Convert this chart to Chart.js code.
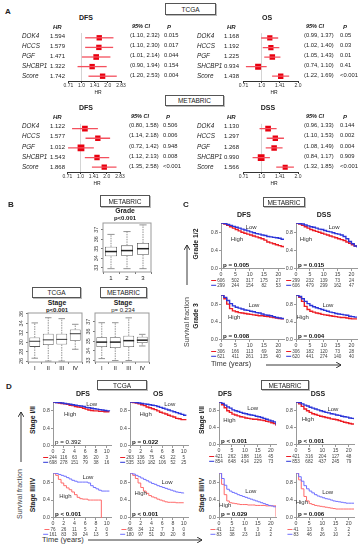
<!DOCTYPE html>
<html>
<head>
<meta charset="utf-8">
<script src="https://cdn.jsdelivr.net/npm/chart.js@4.4.1/dist/chart.umd.min.js"></script>
<style>
body{margin:0;background:#fff;width:362px;height:550px;position:relative;overflow:hidden;font-family:"Liberation Sans",Arial,sans-serif;color:#222}
.t{position:absolute;white-space:nowrap;line-height:1}
.box{position:absolute;border:1px solid #555;box-shadow:1px 1px 0 #bbb;display:flex;align-items:center;justify-content:center;box-sizing:border-box;font-size:6.5px;background:#fff}
canvas{position:absolute}
svg{position:absolute;left:0;top:0}
</style>
</head>
<body>
<script>
// ---------- A: hazard ratios ----------
var genes = ['DOK4', 'HCCS', 'PGF', 'SHCBP1', 'Score'];

var tcgaDfsHR = [1.594, 1.579, 1.471, 1.322, 1.742];
var tcgaDfsLo = [1.10, 1.10, 1.01, 0.90, 1.20];
var tcgaDfsHi = [2.32, 2.30, 2.14, 1.94, 2.53];
var tcgaDfsP = ['0.015', '0.017', '0.044', '0.154', '0.004'];

var tcgaOsHR = [1.168, 1.192, 1.225, 0.934, 1.438];
var tcgaOsLo = [0.99, 1.02, 1.05, 0.74, 1.22];
var tcgaOsHi = [1.37, 1.40, 1.43, 1.10, 1.69];
var tcgaOsP = ['0.05', '0.03', '0.01', '0.41', '<0.001'];

var metaDfsHR = [1.122, 1.577, 1.012, 1.543, 1.868];
var metaDfsLo = [0.80, 1.14, 0.72, 1.12, 1.35];
var metaDfsHi = [1.58, 2.18, 1.42, 2.13, 2.58];
var metaDfsP = ['0.506', '0.006', '0.948', '0.008', '<0.001'];

var metaDssHR = [1.130, 1.297, 1.268, 0.990, 1.566];
var metaDssLo = [0.96, 1.10, 1.08, 0.84, 1.32];
var metaDssHi = [1.33, 1.53, 1.49, 1.17, 1.85];
var metaDssP = ['0.144', '0.002', '0.004', '0.909', '<0.001'];

var hrTicks = [0.7071, 1, 1.4142, 2, 2.8284];
var hrTickLabels = ['0.71', '1.0', '1.41', '2.0', '2.83'];

// ---------- B: box plots ----------
var gradeCats = ['1', '2', '3'];
var gradeLow = [32.9, 32.9, 32.9];
var gradeQ1 = [34.2, 34.25, 34.35];
var gradeMed = [34.7, 34.8, 35.0];
var gradeQ3 = [35.2, 35.35, 35.6];
var gradeHigh = [36.5, 36.8, 37.5];
var gradeTicks = [33, 34, 35, 36, 37];

var stageCats = ['I', 'II', 'III', 'IV'];
var tcgaStageLow = [26.6, 26.0, 26.0, 28.5];
var tcgaStageQ1 = [29.0, 29.4, 29.5, 30.3];
var tcgaStageMed = [30.2, 30.5, 30.6, 31.8];
var tcgaStageQ3 = [31.0, 31.8, 31.8, 32.7];
var tcgaStageHigh = [34.1, 35.2, 35.0, 33.8];
var tcgaStageTicks = [26, 28, 30, 32, 34, 36];

var metaStageLow = [33.2, 33.0, 33.0, 34.5];
var metaStageQ1 = [34.4, 34.3, 34.4, 34.8];
var metaStageMed = [34.9, 34.9, 35.05, 35.1];
var metaStageQ3 = [35.4, 35.4, 35.55, 35.45];
var metaStageHigh = [36.9, 36.9, 37.4, 35.7];
var metaStageTicks = [33, 34, 35, 36, 37];

// ---------- C / D: survival curves ----------
var yearsMeta = [0, 1, 2, 3, 4, 5, 6, 7, 8, 9, 10, 11, 12, 13, 14, 15, 16, 17, 18, 19, 20, 21, 22];
var yearsTcga = [0, 0.5, 1, 1.5, 2, 2.5, 3, 3.5, 4, 4.5, 5, 5.5, 6, 6.5, 7, 7.5, 8, 8.5, 9, 9.5, 10, 10.5];
var kmTicksMeta = [0, 5, 10, 15, 20];
var kmTicksTcga = [0, 2, 4, 6, 8, 10];
var kmTicksY = [0, 0.2, 0.4, 0.6, 0.8, 1.0];

var g12DfsHigh = [1.00, 0.98, 0.95, 0.92, 0.89, 0.86, 0.83, 0.80, 0.78, 0.76, 0.74, 0.72, 0.70, 0.68, 0.66, 0.63, 0.59, 0.57, 0.55, 0.53, 0.51, 0.49, 0.47];
var g12DfsLow = [1.00, 0.99, 0.97, 0.95, 0.93, 0.91, 0.89, 0.87, 0.85, 0.83, 0.81, 0.79, 0.77, 0.76, 0.74, 0.73, 0.71, 0.70, 0.69, 0.68, 0.67, 0.65, 0.63];
var g12DssHigh = [1.00, 0.98, 0.95, 0.92, 0.89, 0.86, 0.84, 0.82, 0.80, 0.78, 0.76, 0.74, 0.72, 0.70, 0.68, 0.66, 0.64, 0.62, 0.59, 0.56, 0.53, 0.50, 0.48];
var g12DssLow = [1.00, 0.99, 0.98, 0.96, 0.94, 0.92, 0.91, 0.89, 0.87, 0.86, 0.84, 0.82, 0.81, 0.79, 0.77, 0.76, 0.74, 0.71, 0.66, 0.60, 0.55, 0.50, 0.47];
var g3DfsHigh = [1.00, 0.92, 0.80, 0.70, 0.65, 0.63, 0.61, 0.60, 0.59, 0.58, 0.57, 0.56, 0.55, 0.54, 0.54, 0.53, 0.52, 0.51, 0.50, 0.49, 0.48, 0.47, 0.46];
var g3DfsLow = [1.00, 0.95, 0.88, 0.81, 0.76, 0.73, 0.71, 0.69, 0.67, 0.66, 0.64, 0.63, 0.61, 0.60, 0.58, 0.56, 0.55, 0.54, 0.52, 0.50, 0.49, 0.48, 0.47];
var g3DssHigh = [1.00, 0.95, 0.86, 0.75, 0.68, 0.64, 0.62, 0.60, 0.59, 0.57, 0.56, 0.55, 0.54, 0.53, 0.52, 0.51, 0.50, 0.50, 0.49, 0.48, 0.47, 0.47, 0.46];
var g3DssLow = [1.00, 0.97, 0.92, 0.86, 0.81, 0.77, 0.74, 0.72, 0.70, 0.68, 0.66, 0.64, 0.62, 0.61, 0.59, 0.58, 0.57, 0.56, 0.55, 0.53, 0.52, 0.51, 0.50];

var tcgaS12DfsHigh = [1.00, 0.99, 0.98, 0.97, 0.96, 0.95, 0.93, 0.92, 0.90, 0.89, 0.88, 0.86, 0.84, 0.82, 0.81, 0.80, 0.80, 0.79, 0.79, 0.78, 0.78, 0.78];
var tcgaS12DfsLow = [1.00, 0.99, 0.99, 0.98, 0.97, 0.96, 0.95, 0.94, 0.93, 0.92, 0.91, 0.90, 0.88, 0.87, 0.86, 0.85, 0.84, 0.83, 0.82, 0.81, 0.80, 0.79];
var tcgaS12OsHigh = [1.00, 0.99, 0.98, 0.96, 0.94, 0.92, 0.89, 0.87, 0.85, 0.83, 0.80, 0.77, 0.75, 0.73, 0.70, 0.68, 0.66, 0.63, 0.62, 0.60, 0.60, 0.60];
var tcgaS12OsLow = [1.00, 1.00, 0.99, 0.98, 0.97, 0.96, 0.95, 0.94, 0.93, 0.92, 0.90, 0.88, 0.86, 0.84, 0.82, 0.80, 0.78, 0.76, 0.74, 0.72, 0.70, 0.70];
var tcgaS34DfsHigh = [1.00, 0.95, 0.86, 0.78, 0.72, 0.67, 0.63, 0.58, 0.52, 0.46, 0.43, 0.42, 0.42, 0.40, 0.40, 0.40, 0.40, 0.40, 0.00];
var tcgaS34DfsLow = [1.00, 0.99, 0.97, 0.95, 0.93, 0.90, 0.87, 0.84, 0.82, 0.80, 0.80, 0.80, 0.80, 0.78, 0.72, 0.68, 0.65, 0.62, 0.60, 0.60, 0.60, 0.60];
var tcgaS34OsHigh = [1.00, 0.95, 0.88, 0.78, 0.68, 0.60, 0.55, 0.50, 0.47, 0.45, 0.42, 0.40, 0.38, 0.36, 0.35, 0.35, 0.35, 0.34, 0.34, 0.34, 0.34];
var tcgaS34OsLow = [1.00, 0.98, 0.95, 0.92, 0.89, 0.86, 0.83, 0.80, 0.77, 0.75, 0.72, 0.70, 0.68, 0.66, 0.64, 0.62, 0.60, 0.58, 0.57, 0.56, 0.55];

var metaS12DfsHigh = [1.00, 0.94, 0.87, 0.80, 0.76, 0.72, 0.70, 0.68, 0.66, 0.65, 0.63, 0.62, 0.61, 0.60, 0.60, 0.59, 0.58, 0.57, 0.55, 0.54, 0.52, 0.50, 0.45];
var metaS12DfsLow = [1.00, 0.97, 0.93, 0.89, 0.86, 0.82, 0.80, 0.78, 0.76, 0.74, 0.73, 0.71, 0.70, 0.69, 0.67, 0.66, 0.64, 0.62, 0.60, 0.58, 0.56, 0.54, 0.47];
var metaS12DssHigh = [1.00, 0.96, 0.90, 0.84, 0.80, 0.76, 0.73, 0.71, 0.69, 0.67, 0.66, 0.64, 0.63, 0.61, 0.60, 0.59, 0.57, 0.55, 0.53, 0.52, 0.50, 0.49, 0.47];
var metaS12DssLow = [1.00, 0.99, 0.96, 0.93, 0.91, 0.88, 0.86, 0.84, 0.82, 0.80, 0.78, 0.76, 0.75, 0.73, 0.72, 0.70, 0.69, 0.67, 0.66, 0.65, 0.63, 0.62, 0.60];
var metaS34DfsHigh = [1.00, 0.75, 0.52, 0.38, 0.34, 0.33, 0.32, 0.31, 0.30, 0.30, 0.30, 0.29, 0.29, 0.29, 0.28, 0.28, 0.28, 0.28, 0.27, 0.27, 0.27, 0.27, 0.03];
var metaS34DfsLow = [1.00, 0.88, 0.73, 0.64, 0.60, 0.57, 0.55, 0.52, 0.50, 0.48, 0.46, 0.44, 0.42, 0.40, 0.38, 0.36, 0.34, 0.32, 0.30, 0.28, 0.27, 0.25, 0.25];
var metaS34DssHigh = [1.00, 0.85, 0.65, 0.48, 0.38, 0.32, 0.30, 0.28, 0.27, 0.26, 0.25, 0.24, 0.23, 0.22, 0.21, 0.20, 0.20, 0.20, 0.20, 0.20, 0.20, 0.20, 0.20];
var metaS34DssLow = [1.00, 0.92, 0.82, 0.72, 0.65, 0.60, 0.56, 0.52, 0.49, 0.47, 0.45, 0.43, 0.42, 0.40, 0.38, 0.37, 0.36, 0.35, 0.34, 0.33, 0.33, 0.33, 0.33];

// numbers at risk (red row, blue row)
var riskG12Dfs = [[606, 502, 317, 175, 27], [299, 244, 154, 82, 53]];
var riskG12Dss = [[299, 232, 139, 73, 24], [606, 479, 299, 162, 47]];
var riskG3Dfs = [[306, 166, 113, 69, 28], [621, 411, 261, 135, 40]];
var riskG3Dss = [[306, 182, 120, 73, 28], [620, 441, 274, 140, 40]];
var riskTcgaS12Dfs = [[244, 116, 63, 36, 20, 3], [698, 278, 151, 79, 38, 16]];
var riskTcgaS12Os = [[263, 136, 75, 43, 22, 5], [535, 319, 182, 106, 52, 25]];
var riskTcgaS34Dfs = [[76, 26, 11, 5, 2, 0], [161, 83, 39, 24, 13, 5]];
var riskTcgaS34Os = [[68, 34, 12, 7, 3, 0], [180, 97, 51, 30, 20, 8]];
var riskMetaS12Dfs = [[421, 262, 188, 116, 45], [854, 648, 414, 229, 73]];
var riskMetaS12Dss = [[421, 316, 204, 127, 48], [853, 682, 437, 245, 79]];
var riskMetaS34Dfs = [[41, 12, 6, 3, 2], [83, 38, 23, 10, 2]];
var riskMetaS34Dss = [[41, 13, 8, 3, 2], [83, 46, 26, 10, 2]];

// ---------------------------------------------------------------
Chart.defaults.font.family = '"Liberation Sans", Arial, sans-serif';
Chart.defaults.color = '#333';
Chart.defaults.animation = false;
Chart.defaults.plugins.legend.display = false;
Chart.defaults.plugins.tooltip.enabled = false;

var RED = '#ec1c24', BLUE = '#2b35d8', RED_L = '#ff6a6a', BLUE_L = '#6f70ff';

function canvasAt(l, t, w, h) {
    var c = document.createElement('canvas');
    c.width = w; c.height = h;
    c.style.left = l + 'px'; c.style.top = t + 'px';
    c.style.width = w + 'px'; c.style.height = h + 'px';
    document.body.appendChild(c);
    return c.getContext('2d');
}

// text helper (x,y = anchor, vertically centred)
function put(s, x, y, size, o) {
    o = o || {};
    var d = document.createElement('div');
    d.className = 't';
    d.textContent = s;
    d.style.left = x + 'px';
    d.style.top = y + 'px';
    d.style.fontSize = size + 'px';
    if (o.b) d.style.fontWeight = 'bold';
    if (o.i) d.style.fontStyle = 'italic';
    if (o.c) d.style.color = o.c;
    var ax = o.al === 'c' ? '-50%' : (o.al === 'r' ? '-100%' : '0');
    if (o.rot) ax = '-50%';
    d.style.transform = 'translate(' + ax + ',-50%)' + (o.rot ? ' rotate(-90deg)' : '');
    document.body.appendChild(d);
}

function box(s, l, t, w, h) {
    var d = document.createElement('div');
    d.className = 'box';
    d.textContent = s;
    d.style.left = l + 'px'; d.style.top = t + 'px';
    d.style.width = w + 'px'; d.style.height = h + 'px';
    document.body.appendChild(d);
}

// ---------- forest plot ----------
function forest(a, title, hr, lo, hi, p, sizes, nTicks, cols) {
    var padL = 10, padR = 10, padT = 2, axisH = 9;
    var ctx = canvasAt(a.l - padL, a.t - padT, a.r - a.l + padL + padR, a.b - a.t + padT + axisH);
    var tv = hrTicks.slice(0, nTicks), tl = hrTickLabels.slice(0, nTicks);
    var ds = [];
    for (var i = 0; i < hr.length; i++) {
        ds.push({type: 'line', data: [{x: lo[i], y: i + 1}, {x: hi[i], y: i + 1}],
            borderColor: '#f4505e', borderWidth: 1.3, pointRadius: 0});
    }
    ds.push({type: 'scatter', data: hr.map(function(v, i) { return {x: v, y: i + 1}; }),
        pointStyle: 'rect', pointRadius: sizes, backgroundColor: '#e8000f', borderWidth: 0});
    new Chart(ctx, {
        type: 'scatter',
        data: {datasets: ds},
        options: {
            responsive: false,
            layout: {padding: {left: padL, right: padR, top: padT}},
            scales: {
                x: {
                    type: 'logarithmic', min: tv[0], max: tv[tv.length - 1],
                    afterBuildTicks: function(s) { s.ticks = tv.map(function(v) { return {value: v}; }); },
                    afterFit: function(s) { s.height = axisH; },
                    ticks: {font: {size: 5}, padding: 0, maxRotation: 0, autoSkip: false, color: '#333',
                        callback: function(v, i) { return tl[i]; }},
                    grid: {color: function(c) { return c.tick && c.tick.value === 1 ? '#d4d4d4' : 'rgba(0,0,0,0)'; },
                        tickColor: '#333', tickLength: 2, lineWidth: 1},
                    border: {color: '#333', width: 1}
                },
                y: {display: false, min: 0.5, max: hr.length + 0.5, reverse: true}
            }
        }
    });
    // text columns
    var step = (a.b - a.t) / hr.length;
    put(title, cols.tx, a.t - 14, 7, {b: 1, al: 'c'});
    put('HR', cols.hr + 3, a.t - 4, 6, {b: 1, i: 1});
    put('95% CI', cols.ci + 2, a.t - 4, 5.5, {b: 1, i: 1});
    put('P', cols.p + 3, a.t - 4, 6, {b: 1, i: 1});
    for (var k = 0; k < hr.length; k++) {
        var y = a.t + (k + 0.5) * step;
        put(genes[k], cols.name, y, 6.3, {i: 1});
        put(hr[k].toFixed(3), cols.hr, y, 6);
        put('(' + lo[k].toFixed(2) + ', ' + hi[k].toFixed(2) + ')', cols.ci, y, 5.8);
        put(p[k], cols.p, y, 5.8);
    }
    put('HR', (a.l + a.r) / 2, a.b + 11, 5);
}

// ---------- box plot ----------
var boxExtra = {
    id: 'boxExtra',
    afterDatasetsDraw: function(chart) {
        var o = chart.options.plugins.boxExtra;
        var ctx = chart.ctx, ys = chart.scales.y, a = chart.chartArea;
        var meta = chart.getDatasetMeta(0);
        var d = chart.data.datasets[0].data;
        ctx.save();
        meta.data.forEach(function(bar, i) {
            var x = bar.x, hw = bar.width / 2;
            var pLo = ys.getPixelForValue(o.lo[i]), pHi = ys.getPixelForValue(o.hi[i]);
            var pQ1 = ys.getPixelForValue(d[i][0]), pQ3 = ys.getPixelForValue(d[i][1]);
            ctx.strokeStyle = '#777';
            ctx.lineWidth = 0.8;
            ctx.setLineDash([1.5, 1]);
            ctx.beginPath();
            ctx.moveTo(x, pQ3); ctx.lineTo(x, pHi);
            ctx.moveTo(x, pQ1); ctx.lineTo(x, pLo);
            ctx.stroke();
            ctx.setLineDash([]);
            ctx.beginPath();
            ctx.moveTo(x - hw * 0.6, pHi); ctx.lineTo(x + hw * 0.6, pHi);
            ctx.moveTo(x - hw * 0.6, pLo); ctx.lineTo(x + hw * 0.6, pLo);
            ctx.stroke();
            ctx.strokeStyle = '#222';
            ctx.lineWidth = o.medW;
            ctx.beginPath();
            var pm = ys.getPixelForValue(o.med[i]);
            ctx.moveTo(x - hw, pm); ctx.lineTo(x + hw, pm);
            ctx.stroke();
        });
        ctx.strokeStyle = '#999';
        ctx.lineWidth = 1;
        ctx.strokeRect(a.left, a.top, a.right - a.left, a.bottom - a.top);
        ctx.fillStyle = '#444';
        ctx.font = '5.5px "Liberation Sans", Arial';
        ctx.textAlign = 'center';
        ctx.textBaseline = 'middle';
        o.ticks.forEach(function(v) {
            ctx.save();
            ctx.translate(a.left - 6.5, ys.getPixelForValue(v));
            ctx.rotate(-Math.PI / 2);
            ctx.fillText(String(v), 0, 0);
            ctx.restore();
        });
        ctx.restore();
    }
};

function boxplot(a, cats, lo, q1, med, q3, hi, yMin, yMax, ticks, barPct, medW) {
    var padL = 12, padB = 12, padT = 2, padR = 3;
    var ctx = canvasAt(a.l - padL, a.t - padT, a.r - a.l + padL + padR, a.b - a.t + padT + padB);
    new Chart(ctx, {
        type: 'bar',
        data: {labels: cats, datasets: [{
            data: q1.map(function(v, i) { return [v, q3[i]]; }),
            backgroundColor: '#fff', borderColor: '#555', borderWidth: 0.8, borderSkipped: false,
            barPercentage: barPct, categoryPercentage: 1
        }]},
        options: {
            responsive: false,
            layout: {padding: {top: padT, right: padR}},
            scales: {
                x: {afterFit: function(s) { s.height = padB; },
                    ticks: {font: {size: 6}, padding: 1, color: '#222', maxRotation: 0},
                    grid: {drawOnChartArea: false, tickLength: 2, color: '#777'},
                    border: {display: false}},
                y: {min: yMin, max: yMax,
                    afterBuildTicks: function(s) { s.ticks = ticks.map(function(v) { return {value: v}; }); },
                    afterFit: function(s) { s.width = padL; },
                    ticks: {display: false},
                    grid: {drawOnChartArea: false, tickLength: 2, color: '#777'},
                    border: {display: false}}
            },
            plugins: {boxExtra: {lo: lo, hi: hi, med: med, ticks: ticks, medW: medW}}
        },
        plugins: [boxExtra]
    });
}

// ---------- Kaplan-Meier ----------
var kmText = {
    id: 'kmText',
    afterDraw: function(chart) {
        var o = chart.options.plugins.kmText;
        var ctx = chart.ctx, xs = chart.scales.x, ys = chart.scales.y, a = chart.chartArea;
        ctx.save();
        ctx.fillStyle = '#333';
        ctx.textBaseline = 'middle';
        ctx.font = '6px "Liberation Sans", Arial';
        ctx.textAlign = 'center';
        ctx.fillText('Low', xs.getPixelForValue(o.low[0]), ys.getPixelForValue(o.low[1]));
        ctx.fillText('High', xs.getPixelForValue(o.high[0]), ys.getPixelForValue(o.high[1]));
        ctx.textAlign = 'left';
        ctx.fillStyle = '#111';
        ctx.font = (o.pBold ? 'bold ' : '') + '6.2px "Liberation Sans", Arial';
        ctx.fillText(o.p, a.left + 2, ys.getPixelForValue(0.09));
        ctx.font = '4.6px "Liberation Sans", Arial';
        ctx.textAlign = 'center';
        var cols = [o.c1, o.c2];
        o.risk.forEach(function(row, r) {
            var y = a.bottom + 11.5 + r * 4.8;
            ctx.fillStyle = '#444';
            row.forEach(function(n, j) {
                ctx.fillText(String(n), xs.getPixelForValue(o.riskT[j]), y);
            });
            var w0 = ctx.measureText(String(row[0])).width;
            var x0 = xs.getPixelForValue(o.riskT[0]) - w0 / 2;
            ctx.strokeStyle = cols[r];
            ctx.lineWidth = 1;
            ctx.beginPath();
            ctx.moveTo(x0 - 6, y); ctx.lineTo(x0 - 1, y);
            ctx.stroke();
        });
        ctx.restore();
    }
};

function km(a, xs, xMax, xTicks, high, low, light, o) {
    var padL = 13, padT = 3, padR = 4, axisH = 22;
    var ctx = canvasAt(a.l - padL, a.t - padT, a.r - a.l + padL + padR, a.b - a.t + padT + axisH);
    var c1 = light ? RED_L : RED, c2 = light ? BLUE_L : BLUE;
    function pts(s) { return s.map(function(v, i) { return {x: xs[i], y: v}; }); }
    o.c1 = c1; o.c2 = c2;
    new Chart(ctx, {
        type: 'line',
        data: {datasets: [
            {data: pts(low), borderColor: c2, borderWidth: light ? 1 : 1.4, pointRadius: 0, stepped: true},
            {data: pts(high), borderColor: c1, borderWidth: light ? 1 : 1.4, pointRadius: 0, stepped: true}
        ]},
        options: {
            responsive: false,
            layout: {padding: {top: padT, right: padR}},
            scales: {
                x: {type: 'linear', min: 0, max: xMax,
                    afterBuildTicks: function(s) { s.ticks = xTicks.map(function(v) { return {value: v}; }); },
                    afterFit: function(s) { s.height = axisH; },
                    ticks: {font: {size: 5.2}, padding: 0, maxRotation: 0, autoSkip: false, color: '#444'},
                    grid: {drawOnChartArea: false, tickLength: 2, color: '#999'},
                    border: {color: '#999'}},
                y: {min: 0, max: 1,
                    afterBuildTicks: function(s) { s.ticks = kmTicksY.map(function(v) { return {value: v}; }); },
                    afterFit: function(s) { s.width = padL; },
                    ticks: {font: {size: 5.2}, padding: 1, color: '#444', callback: function(v) { return v.toFixed(1); }},
                    grid: {drawOnChartArea: false, tickLength: 2, color: '#999'},
                    border: {color: '#999'}}
            },
            plugins: {kmText: o}
        },
        plugins: [kmText]
    });
}

// =============== A ===============
put('A', 5, 12, 8, {b: 1});
box('TCGA', 165, 3, 51, 12);
box('METABRIC', 165, 95, 59, 11);
forest({l: 68, r: 121, t: 31, b: 81}, 'DFS', tcgaDfsHR, tcgaDfsLo, tcgaDfsHi, tcgaDfsP,
    [3.8, 3.8, 4.0, 3.8, 3.8], 5, {tx: 86, name: 22, hr: 50, ci: 130, p: 164});
forest({l: 243, r: 298, t: 31, b: 81}, 'OS', tcgaOsHR, tcgaOsLo, tcgaOsHi, tcgaOsP,
    [3.7, 3.7, 3.9, 4.2, 3.8], 4, {tx: 267, name: 197, hr: 224, ci: 304, p: 340});
forest({l: 67, r: 120, t: 121, b: 172}, 'DFS', metaDfsHR, metaDfsLo, metaDfsHi, metaDfsP,
    [4.0, 3.8, 4.8, 3.8, 3.8], 5, {tx: 86, name: 22, hr: 50, ci: 129, p: 163});
forest({l: 243, r: 298, t: 121, b: 172}, 'DSS', metaDssHR, metaDssLo, metaDssHi, metaDssP,
    [4.0, 3.8, 3.9, 4.8, 3.6], 4, {tx: 268, name: 197, hr: 224, ci: 304, p: 340});

// =============== B ===============
put('B', 8, 205, 8, {b: 1});
box('METABRIC', 100, 195, 50, 12);
put('Grade', 125, 211, 6.8, {b: 1, al: 'c'});
put('p<0.001', 125, 218, 6, {b: 1, al: 'c'});
boxplot({l: 103, r: 151, t: 223, b: 272}, gradeCats, gradeLow, gradeQ1, gradeMed, gradeQ3, gradeHigh,
    32.55, 37.7, gradeTicks, 0.75, 1.5);

box('TCGA', 32, 287, 49, 11);
put('Stage', 57, 303, 6.8, {b: 1, al: 'c'});
put('p<0.001', 57, 310, 6, {b: 1, al: 'c'});
boxplot({l: 28, r: 82, t: 313, b: 362}, stageCats, tcgaStageLow, tcgaStageQ1, tcgaStageMed, tcgaStageQ3, tcgaStageHigh,
    25.8, 36.2, tcgaStageTicks, 0.8, 0.9);

box('METABRIC', 100, 287, 47, 11);
put('Stage', 123, 303, 6.8, {b: 1, al: 'c'});
put('p= 0.234', 123, 310, 6, {al: 'c'});
boxplot({l: 95, r: 149, t: 313, b: 362}, stageCats, metaStageLow, metaStageQ1, metaStageMed, metaStageQ3, metaStageHigh,
    32.85, 37.9, metaStageTicks, 0.8, 1.5);

// =============== C ===============
put('C', 183, 205, 8, {b: 1});
box('METABRIC', 263, 197, 42, 10);
put('DFS', 244, 214, 7, {b: 1, al: 'c'});
put('DSS', 324, 214, 7, {b: 1, al: 'c'});
put('Grade 1/2', 196, 244, 6.8, {b: 1, rot: 1});
put('Grade 3', 196, 316, 6.8, {b: 1, rot: 1});
put('Survival fraction', 186, 322, 7, {rot: 1, c: '#444'});
put('Time (years)', 211, 364, 7.2, {c: '#333'});

km({l: 221, r: 284, t: 222, b: 269}, yearsMeta, 22, kmTicksMeta, g12DfsHigh, g12DfsLow, false,
    {low: [10.5, 0.9], high: [5.6, 0.64], p: 'p = 0.005', pBold: true, risk: riskG12Dfs, riskT: kmTicksMeta});
km({l: 296, r: 357, t: 222, b: 269}, yearsMeta, 22, kmTicksMeta, g12DssHigh, g12DssLow, false,
    {low: [13.7, 0.9], high: [3.6, 0.64], p: 'p = 0.015', pBold: true, risk: riskG12Dss, riskT: kmTicksMeta});
km({l: 221, r: 284, t: 294, b: 340}, yearsMeta, 22, kmTicksMeta, g3DfsHigh, g3DfsLow, false,
    {low: [11.5, 0.77], high: [4.6, 0.5], p: 'p = 0.008', pBold: true, risk: riskG3Dfs, riskT: kmTicksMeta});
km({l: 296, r: 357, t: 294, b: 340}, yearsMeta, 22, kmTicksMeta, g3DssHigh, g3DssLow, false,
    {low: [11.5, 0.78], high: [2.4, 0.5], p: 'p = 0.004', pBold: true, risk: riskG3Dss, riskT: kmTicksMeta});

// =============== D ===============
put('D', 6, 387, 8, {b: 1});
box('TCGA', 97, 380, 50, 10);
box('METABRIC', 261, 380, 48, 10);
put('DFS', 83, 393, 7, {b: 1, al: 'c'});
put('OS', 158, 393, 7, {b: 1, al: 'c'});
put('DFS', 225, 393, 7, {b: 1, al: 'c'});
put('DSS', 318, 393, 7, {b: 1, al: 'c'});
put('Stage I/II', 33, 420, 6.8, {b: 1, rot: 1});
put('Stage III/IV', 33, 495, 6.8, {b: 1, rot: 1});
put('Stage I/II', 202, 420, 6.8, {b: 1, rot: 1});
put('Stage III/IV', 202, 495, 6.8, {b: 1, rot: 1});
put('Survival fraction', 19, 494, 7, {rot: 1, c: '#444'});
put('Time (years)', 42, 540, 7.5, {c: '#333'});

km({l: 53, r: 111, t: 401, b: 446}, yearsTcga, 10.8, kmTicksTcga, tcgaS12DfsHigh, tcgaS12DfsLow, false,
    {low: [7.2, 0.96], high: [3.2, 0.72], p: 'p = 0.392', pBold: false, risk: riskTcgaS12Dfs, riskT: kmTicksTcga});
km({l: 130, r: 188, t: 401, b: 446}, yearsTcga, 10.8, kmTicksTcga, tcgaS12OsHigh, tcgaS12OsLow, false,
    {low: [7.4, 0.95], high: [2.9, 0.72], p: 'p = 0.022', pBold: true, risk: riskTcgaS12Os, riskT: kmTicksTcga});
km({l: 53, r: 111, t: 472, b: 518}, yearsTcga, 10.8, kmTicksTcga, tcgaS34DfsHigh, tcgaS34DfsLow, true,
    {low: [6.5, 0.91], high: [2.3, 0.48], p: 'p < 0.001', pBold: true, risk: riskTcgaS34Dfs, riskT: kmTicksTcga});
km({l: 130, r: 188, t: 472, b: 518}, yearsTcga, 10.8, kmTicksTcga, tcgaS34OsHigh, tcgaS34OsLow, true,
    {low: [6.9, 0.8], high: [2.0, 0.54], p: 'p < 0.001', pBold: true, risk: riskTcgaS34Os, riskT: kmTicksTcga});

km({l: 219, r: 276, t: 401, b: 445}, yearsMeta, 22, kmTicksMeta, metaS12DfsHigh, metaS12DfsLow, false,
    {low: [13, 0.86], high: [4, 0.57], p: 'p < 0.001', pBold: true, risk: riskMetaS12Dfs, riskT: kmTicksMeta});
km({l: 296, r: 354, t: 401, b: 445}, yearsMeta, 22, kmTicksMeta, metaS12DssHigh, metaS12DssLow, false,
    {low: [14, 0.82], high: [4.5, 0.59], p: 'p < 0.001', pBold: true, risk: riskMetaS12Dss, riskT: kmTicksMeta});
km({l: 219, r: 276, t: 472, b: 518}, yearsMeta, 22, kmTicksMeta, metaS34DfsHigh, metaS34DfsLow, true,
    {low: [12.3, 0.59], high: [2.4, 0.28], p: 'p = 0.029', pBold: true, risk: riskMetaS34Dfs, riskT: kmTicksMeta});
km({l: 296, r: 354, t: 472, b: 518}, yearsMeta, 22, kmTicksMeta, metaS34DssHigh, metaS34DssLow, true,
    {low: [12, 0.57], high: [2.2, 0.35], p: 'p = 0.006', pBold: true, risk: riskMetaS34Dss, riskT: kmTicksMeta});

// arrows
var svg = '<svg width="362" height="550" xmlns="http://www.w3.org/2000/svg">' +
    '<defs><marker id="ah" markerWidth="6" markerHeight="6" refX="5" refY="3" orient="auto" markerUnits="userSpaceOnUse">' +
    '<path d="M0,0 L5,3 L0,6" fill="none" stroke="#222" stroke-width="0.9"/></marker></defs>' +
    '<g stroke="#222" stroke-width="0.9" fill="none">' +
    '<line x1="187" y1="285" x2="187" y2="245" marker-end="url(#ah)"/>' +
    '<line x1="266" y1="365" x2="341" y2="365" marker-end="url(#ah)"/>' +
    '<line x1="21" y1="462" x2="21" y2="412" marker-end="url(#ah)"/>' +
    '<line x1="88" y1="540" x2="202" y2="540" marker-end="url(#ah)"/>' +
    '</g></svg>';
var holder = document.createElement('div');
holder.innerHTML = svg;
document.body.appendChild(holder.firstChild);
</script>
</body>
</html>
